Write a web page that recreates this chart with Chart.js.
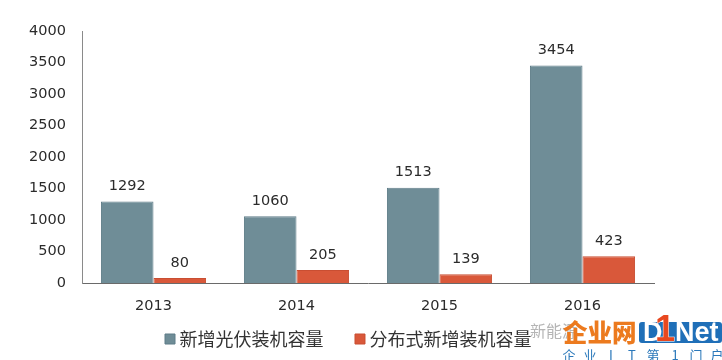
<!DOCTYPE html>
<html><head><meta charset="utf-8">
<style>html,body{margin:0;padding:0;background:#fff}#w{position:relative;width:722px;height:360px}</style>
<script src="https://cdn.jsdelivr.net/npm/chart.js@4"></script>
</head><body><div id="w"><canvas id="c" width="722" height="360"></canvas></div>
<script>
const categories=['2013','2014','2015','2016'];
const newPV=[1292,1060,1513,3454];
const distributed=[80,205,139,423];
const seriesNames=['新增光伏装机容量','分布式新增装机容量'];
const latin='"DejaVu Sans"';
const cjk='"Noto Sans CJK SC"';
const valueLabels={
  id:'valueLabels',
  afterDatasetsDraw(ch){
    const c=ch.ctx;c.save();
    c.font='14.5px '+latin;c.fillStyle='#2b2b2b';c.textAlign='center';c.textBaseline='middle';
    ch.data.datasets.forEach((d,i)=>{
      ch.getDatasetMeta(i).data.forEach((b,j)=>{c.fillText(String(d.data[j]),b.x,b.y-15);});
    });
    c.restore();
  }
};
const legendPlace={
  id:'legendPlace',
  beforeLayout(ch){
    const l=ch.legend;
    if(l&&!l._wrapped){const f=l.fit;l.fit=function(){f.call(this);this.height=38;};l._wrapped=true;}
  },
  afterLayout(ch){ch.legend.left=133.5;ch.legend.top=294;}
};
const watermark={
  id:'watermark',
  afterDraw(ch){
    const c=ch.ctx;c.save();
    c.textBaseline='middle';c.textAlign='left';
    c.font='16px '+cjk;c.fillStyle='#b5b5b5';c.fillText('新能源',530,331);
    c.font='900 24.5px '+cjk;c.fillStyle='#ec7a1e';c.fillText('企业网',563,333);
    c.fillStyle='#1f6fb8';c.beginPath();c.roundRect(639,322,83,21,3);c.fill();
    c.fillStyle='#fff';c.font='bold 27px "Liberation Sans"';c.fillText('D',643,334);
    c.fillText('Net',675,334);
    c.fillStyle='#e8481f';c.strokeStyle='#fff';c.lineWidth=1;c.font='bold 36px "Liberation Sans"';
    c.textAlign='center';
    c.strokeText('1',665,331);c.fillText('1',665,331);
    c.font='13px '+cjk;c.fillStyle='#2a78ba';
    const s=['企','业','I','T','第','1','门','户'],xs=[569,590,611,632,653,675,696,717];
    s.forEach((t,i)=>{c.fillText(t,xs[i],355);});
    c.restore();
  }
};
new Chart(document.getElementById('c'),{
  type:'bar',
  data:{labels:categories,datasets:[
    {label:seriesNames[0],data:newPV,backgroundColor:'#6f8d97',borderColor:'#5f7d88',borderWidth:1},
    {label:seriesNames[1],data:distributed,backgroundColor:'#d9583a',borderColor:'#c94e32',borderWidth:1}
  ]},
  options:{
    responsive:false,animation:false,
    layout:{padding:{top:31,right:68,bottom:3,left:0}},
    datasets:{bar:{categoryPercentage:0.735,barPercentage:1}},
    plugins:{
      tooltip:{enabled:false},
      legend:{position:'bottom',align:'start',
        labels:{usePointStyle:true,pointStyle:'rect',boxWidth:1,boxHeight:10,padding:36,color:'#333',font:{family:cjk,size:18}}}
    },
    scales:{
      x:{grid:{display:false,drawTicks:false},border:{color:'#6a6a6a',width:1},
        ticks:{color:'#2b2b2b',padding:15,font:{family:latin,size:14.5}},
        afterFit(s){s.height=36;}},
      y:{min:0,max:4000,grid:{display:false,drawTicks:false},border:{color:'#8a8a8a',width:1},
        ticks:{stepSize:500,color:'#2b2b2b',padding:16,font:{family:latin,size:14.5},callback:v=>String(v)},
        afterFit(s){s.width=82;}}
    }
  },
  plugins:[valueLabels,legendPlace,watermark]
});
</script></body></html>
